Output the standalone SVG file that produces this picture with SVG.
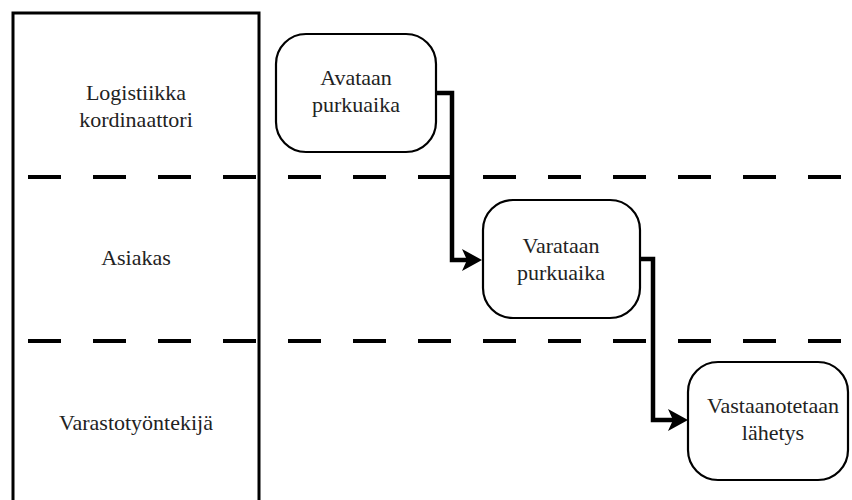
<svg xmlns="http://www.w3.org/2000/svg" width="852" height="500" viewBox="0 0 852 500">
<style>
text{font-family:"Liberation Serif","Times New Roman",serif;font-size:22px;fill:#222;text-anchor:middle}
.node{fill:#fff;stroke:#000;stroke-width:2.2}
.lane{fill:none;stroke:#000;stroke-width:3}
.sep{stroke:#000;stroke-width:4;stroke-dasharray:33 32}
.conn{fill:none;stroke:#000;stroke-width:4.5;stroke-linejoin:miter}
</style>
<defs>
<marker id="arr" markerUnits="userSpaceOnUse" viewBox="0 0 20 22" refX="14" refY="11" markerWidth="20" markerHeight="22" orient="auto">
<path d="M0,0 L20,11 L0,22 L5,11 Z" fill="#000"/>
</marker>
</defs>
<rect fill="#fff" x="0" y="0" width="852" height="500"/>
<g id="lanes">
<rect class="lane" x="13" y="13" width="246" height="500"/>
<line class="sep" x1="28" y1="177" x2="852" y2="177"/>
<line class="sep" x1="28" y1="341" x2="852" y2="341"/>
<text x="136" y="100">Logistiikka</text>
<text x="136" y="127">kordinaattori</text>
<text x="136" y="265">Asiakas</text>
<text x="136" y="430">Varastotyöntekijä</text>
</g>
<g id="connectors">
<path class="conn" d="M437,93 H452 V260 H476" marker-end="url(#arr)"/>
<path class="conn" d="M640,259 H653 V420 H682" marker-end="url(#arr)"/>
</g>
<g id="n1">
<rect class="node" x="276" y="34" width="160" height="118" rx="30"/>
<text x="356" y="85">Avataan</text>
<text x="356" y="112">purkuaika</text>
</g>
<g id="n2">
<rect class="node" x="483" y="200" width="157" height="118" rx="30"/>
<text x="561" y="253">Varataan</text>
<text x="561" y="280">purkuaika</text>
</g>
<g id="n3">
<rect class="node" x="688" y="362" width="160" height="118" rx="30"/>
<text x="773" y="413">Vastaanotetaan</text>
<text x="773" y="440">lähetys</text>
</g>
</svg>
